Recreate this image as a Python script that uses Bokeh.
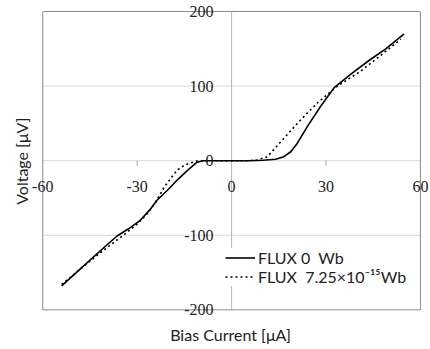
from bokeh.plotting import figure
from bokeh.models import FixedTicker, Legend, LegendItem, LabelSet, ColumnDataSource
from bokeh.embed import file_html
from bokeh.resources import INLINE

# ---- data ----
flux0_x = [-54, -47, -42, -36.4, -33, -29, -26, -23.7, -20, -17.3, -14, -11, -9, -5, 0,
           5, 10, 14, 16.6, 18.8, 20.9, 24.1, 28.3, 32.6, 37.9, 44.2, 49, 54.8]
flux0_y = [-168, -141, -122, -101, -92, -80, -66, -53, -38, -26, -13, -2, 0, 0, 0,
           0, 0.5, 2, 5.4, 12, 23.5, 46, 73, 98, 116, 136, 150, 170]

flux1_x = [-54, -50, -46, -40, -35, -30, -26.8, -24, -21.5, -19, -17.3, -15, -13, -11, -5, 0,
           5, 8, 11.4, 16.6, 22, 27.3, 33.6, 41, 48.5, 53.8]
flux1_y = [-166, -152, -138, -118, -102, -85, -71, -55, -36, -22, -12.6, -6, -3, -0.5, 0, 0,
           0, 0.5, 5.4, 30, 55, 77.6, 100, 120, 145, 163]

x_ticks = [-60, -30, 0, 30, 60]
x_tick_labels = ["-60", "-30", "0", "30", "60"]
y_ticks = [-200, -100, 0, 100, 200]
y_tick_labels = ["-200", "-100", "0", "100", "200"]
minor_x_ticks = [-30, 30]

legend_labels = ["FLUX 0  Wb", "FLUX  7.25\u00d710\u207b\u00b9\u2075Wb"]
x_title = "Bias Current [\u03bcA]"
y_title = "Voltage [\u03bcV]"

FONT = "Lato"
TXT = "#222222"
EDGE = "#8c8c8c"

x_lo, x_hi = x_ticks[0], x_ticks[-1]
y_lo, y_hi = y_ticks[0], y_ticks[-1]

p = figure(width=430, height=349, x_range=(-63.9, 63.2), y_range=(-217.0, 214.8),
           output_backend="svg", toolbar_location=None,
           min_border_left=30, min_border_right=0, min_border_top=0, min_border_bottom=27)
p.background_fill_color = "white"
p.border_fill_color = "white"
p.outline_line_color = None
p.xgrid.visible = False
p.ygrid.visible = False

# axes only carry the titles
for ax in (p.xaxis[0], p.yaxis[0]):
    ax.ticker = FixedTicker(ticks=[])
    ax.axis_line_color = None
    ax.major_tick_line_color = None
    ax.minor_tick_line_color = None
    ax.axis_label_text_font = FONT
    ax.axis_label_text_font_size = "16px"
    ax.axis_label_text_font_style = "normal"
    ax.axis_label_text_color = TXT
    ax.major_label_standoff = 0
p.xaxis.axis_label = x_title
p.yaxis.axis_label = y_title
p.xaxis.axis_label_standoff = 2
p.yaxis.axis_label_standoff = 0

# inner grid lines (horizontal at inner y ticks, vertical at x = 0)
inner_y = y_ticks[1:-1]
p.segment(x0=[x_lo] * len(inner_y), y0=inner_y, x1=[x_hi] * len(inner_y), y1=inner_y,
          line_color="#d9d9d9", line_width=1)
p.segment(x0=[0], y0=[y_lo], x1=[0], y1=[y_hi], line_color="#b4b4b4", line_width=1)
# plot box
p.segment(x0=[x_lo, x_lo], y0=[y_lo, y_hi], x1=[x_hi, x_hi], y1=[y_lo, y_hi],
          line_color=EDGE, line_width=1)
p.segment(x0=[x_lo, x_hi], y0=[y_lo, y_lo], x1=[x_lo, x_hi], y1=[y_hi, y_hi],
          line_color=EDGE, line_width=1)

# small tick marks on the horizontal axis
p.segment(x0=minor_x_ticks, y0=[0] * len(minor_x_ticks), x1=minor_x_ticks,
          y1=[-7] * len(minor_x_ticks), line_color="#a0a0a0", line_width=1)

r0 = p.line(flux0_x, flux0_y, line_color="black", line_width=1.6)
r1 = p.line(flux1_x, flux1_y, line_color="black", line_width=1.6, line_dash="2 3")

# tick labels placed at the crossing axes
xsrc = ColumnDataSource(dict(x=x_ticks, y=[0] * len(x_ticks), t=x_tick_labels))
ysrc = ColumnDataSource(dict(x=[0] * len(y_ticks), y=y_ticks, t=y_tick_labels))
p.add_layout(LabelSet(x="x", y="y", text="t", source=xsrc, text_align="center",
                      text_baseline="middle", y_offset=-26, text_font=FONT,
                      text_font_size="16px", text_color=TXT))
p.add_layout(LabelSet(x="x", y="y", text="t", source=ysrc, text_align="right",
                      text_baseline="middle", x_offset=-18, text_font=FONT,
                      text_font_size="16px", text_color=TXT))

legend = Legend(items=[LegendItem(label=legend_labels[0], renderers=[r0]),
                       LegendItem(label=legend_labels[1], renderers=[r1])],
                location=(195, 36), label_text_font=FONT, label_text_font_size="16px",
                label_text_color=TXT, border_line_color=None,
                background_fill_color="white", background_fill_alpha=1.0,
                glyph_width=30, spacing=0, padding=2, label_standoff=3,
                label_height=17, glyph_height=17)
p.add_layout(legend)

open("out.html", "w").write(file_html(p, INLINE))
